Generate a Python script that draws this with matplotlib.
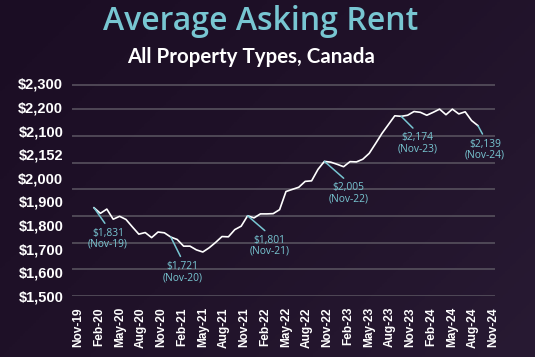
import numpy as np
import matplotlib
matplotlib.use("Agg")
from matplotlib import pyplot as plt
from matplotlib.colors import LinearSegmentedColormap

# monthly average asking rent, Nov-19 .. Nov-24
rent = [1831, 1810, 1826, 1788, 1799, 1787, 1759, 1732, 1738, 1719,
        1740, 1737, 1721, 1712, 1687, 1687, 1673, 1665, 1681, 1701,
        1723, 1722, 1749, 1762, 1801, 1793, 1808, 1808, 1809, 1824,
        1892, 1900, 1908, 1930, 1932, 1975, 2005, 2002, 1994, 1985,
        2004, 2003, 2013, 2035, 2072, 2110, 2143, 2176, 2174, 2178,
        2192, 2189, 2178, 2189, 2201, 2180, 2201, 2183, 2191, 2158,
        2139]

x_labels = ["Nov-19", "Feb-20", "May-20", "Aug-20", "Nov-20", "Feb-21", "May-21",
            "Aug-21", "Nov-21", "Feb-22", "May-22", "Aug-22", "Nov-22", "Feb-23",
            "May-23", "Aug-23", "Nov-23", "Feb-24", "May-24", "Aug-24", "Nov-24"]
y_labels = ["$1,500", "$1,600", "$1,700", "$1,800", "$1,900", "$2,000",
            "$2,152", "$2,100", "$2,200", "$2,300"]

note_idx = [0, 12, 24, 36, 48, 60]
note_txt = ["$1,831\n(Nov-19)", "$1,721\n(Nov-20)", "$1,801\n(Nov-21)",
            "$2,005\n(Nov-22)", "$2,174\n(Nov-23)", "$2,139\n(Nov-24)"]
note_off = [(14, -20), (12, -24), (22, -19), (24, -21), (16, -16), (7, -13)]

cyan = "#78c6d2"
grid_c = "#57515e"

fig = plt.figure(figsize=(5.35, 3.57), dpi=100)

# background gradient
bg = fig.add_axes([0, 0, 1, 1], zorder=-10)
cmap = LinearSegmentedColormap.from_list("bg", ["#1b0d24", "#201229", "#281a33"])
gx, gy = np.meshgrid(np.linspace(0, 1, 200), np.linspace(0, 1, 200))
bg.imshow(gx * 0.6 + gy * 0.4, cmap=cmap, aspect="auto", extent=[0, 1, 0, 1])
bg.axis("off")

ax = fig.add_axes([72 / 535, 61 / 357, 423 / 535, 213 / 357])
ax.set_facecolor("none")
months = np.arange(len(rent))
ax.plot(months, rent, color="white", lw=1.2, zorder=3)
ax.set_xlim(-3.44, 62.66)
ax.set_ylim(1500, 2299)
ax.set_yticks(list(range(1500, 2201, 100)) + [2291])
ax.yaxis.grid(True, color=grid_c, lw=1.2)
ax.set_xticks([])
ax.tick_params(axis="y", length=0, labelleft=False)
for s in ax.spines.values():
    s.set_visible(False)

for i, t, off in zip(note_idx, note_txt, note_off):
    ax.annotate(t, xy=(i, rent[i]), xytext=off, textcoords="offset pixels",
                ha="center", va="top", color=cyan, fontsize=7.4,
                family="Open Sans", linespacing=1.0, zorder=4,
                arrowprops=dict(arrowstyle="-", color=cyan, lw=1.1,
                                relpos=(0.5, 1.0), shrinkA=1.5, shrinkB=0))

# tick labels (own scales, as in the original)
axx = ax.twiny()
axx.set_xlim(-0.304, 20.082)
axx.set_xticks(range(len(x_labels)))
axx.set_xticklabels(x_labels, rotation=90, fontsize=8.6, fontweight="bold",
                    family="Liberation Sans", color="white")
axx.xaxis.tick_bottom()
axx.tick_params(axis="x", length=0, pad=8)

axy = ax.twinx()
axy.set_ylim(0.096, 9.012)
axy.set_yticks(range(len(y_labels)))
axy.set_yticklabels(y_labels, fontsize=10.5, fontweight="bold",
                    family="Liberation Sans", color="white")
axy.yaxis.tick_left()
axy.tick_params(axis="y", length=0, pad=6.3)
for a in (axx, axy):
    a.set_facecolor("none")
    for s in a.spines.values():
        s.set_visible(False)

fig.text(0.488, 1 - 22 / 357, "Average Asking Rent", ha="center", va="center",
         color=cyan, fontsize=23, family="Open Sans", fontweight="semibold")
fig.text(0.470, 1 - 57 / 357, "All Property Types, Canada", ha="center",
         va="center", color="white", fontsize=14.8, family="Lato",
         fontweight="bold")

fig.savefig("out.png", dpi=100)
